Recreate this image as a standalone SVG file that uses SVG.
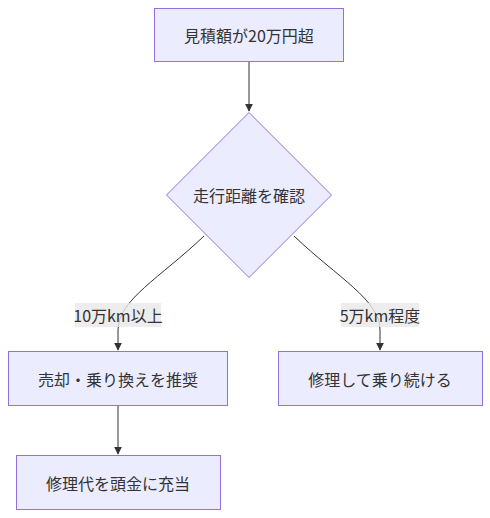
<svg xmlns="http://www.w3.org/2000/svg" width="490" height="518" viewBox="0 0 490 518">
<style>
.node rect,.node polygon{fill:#ECECFF;stroke:#9370DB;stroke-width:1}
text{font-family:"Noto Sans CJK JP","Noto Sans",sans-serif;font-size:16px;fill:#333;text-anchor:middle;dominant-baseline:central}
.edge{fill:none;stroke:#333;stroke-width:1}
.lbl{fill:#e8e8e8;opacity:0.8}
</style>
<defs>
<marker id="arr" viewBox="0 0 10 10" refX="9" refY="5" markerWidth="8" markerHeight="8" markerUnits="userSpaceOnUse" orient="auto">
<path d="M0,0 L10,5 L0,10 z" fill="#333"/>
</marker>
</defs>
<rect width="490" height="518" fill="#fff"/>
<g id="edges">
<path class="edge" d="M249,62 L249,111" marker-end="url(#arr)"/>
<path class="edge" d="M204,236 C160,278 118,300 118,330 L118,350" marker-end="url(#arr)"/>
<path class="edge" d="M294,236 C338,278 380,300 380,330 L380,350" marker-end="url(#arr)"/>
<path class="edge" d="M118,406 L118,454" marker-end="url(#arr)"/>
<rect class="lbl" x="75" y="303" width="86" height="24"/>
<text x="118" y="315">10万km以上</text>
<rect class="lbl" x="341" y="303" width="78" height="24"/>
<text x="380" y="315">5万km程度</text>
</g>
<g id="n1" class="node"><rect x="154.5" y="8.5" width="189" height="53"/><text x="249" y="35">見積額が20万円超</text></g>
<g id="n2" class="node"><polygon points="249,112.5 331.5,195 249,277.5 166.5,195"/><text x="249" y="195">走行距離を確認</text></g>
<g id="n3" class="node"><rect x="8.5" y="351.5" width="219" height="54"/><text x="118" y="378.5">売却・乗り換えを推奨</text></g>
<g id="n4" class="node"><rect x="278.5" y="351.5" width="204" height="54"/><text x="380" y="378.5">修理して乗り続ける</text></g>
<g id="n5" class="node"><rect x="16.5" y="455.5" width="204" height="54"/><text x="118" y="482.5">修理代を頭金に充当</text></g>
</svg>
